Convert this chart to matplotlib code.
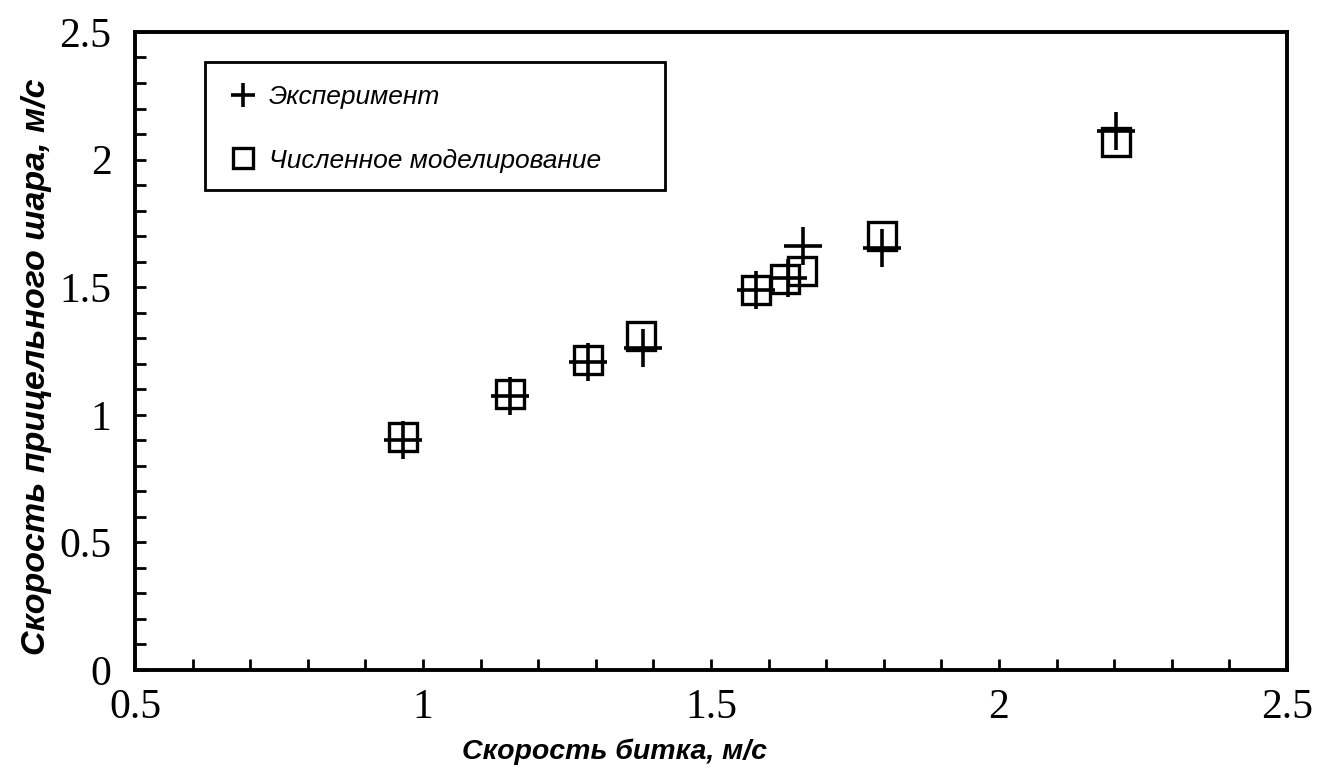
import matplotlib
matplotlib.use("Agg")
import matplotlib.pyplot as plt
from matplotlib.ticker import MultipleLocator
from matplotlib.patches import Rectangle

# Data
x_exp = [0.965, 1.151, 1.287, 1.382, 1.579, 1.634, 1.660, 1.797, 2.203]
y_exp = [0.90, 1.074, 1.207, 1.262, 1.489, 1.536, 1.661, 1.654, 2.112]
x_model = [0.965, 1.151, 1.287, 1.378, 1.579, 1.628, 1.658, 1.797, 2.203]
y_model = [0.913, 1.081, 1.215, 1.307, 1.489, 1.532, 1.565, 1.699, 2.069]

label_exp = "Эксперимент"
label_model = "Численное моделирование"
xlabel = "Скорость битка, м/с"
ylabel = "Скорость прицельного шара, м/с"
xticks = [0.5, 1, 1.5, 2, 2.5]
yticks = [0, 0.5, 1, 1.5, 2, 2.5]
xtick_labels = ["0.5", "1", "1.5", "2", "2.5"]
ytick_labels = ["0", "0.5", "1", "1.5", "2", "2.5"]

fig = plt.figure(figsize=(13.17, 7.78), dpi=100)
ax = fig.add_axes([0.1025, 0.1388, 0.8747, 0.8201])

ax.plot(x_exp, y_exp, linestyle="none", marker="+", markersize=27,
        markeredgewidth=2.6, color="black", label=label_exp)
ax.plot(x_model, y_model, linestyle="none", marker="s", markersize=20,
        markeredgewidth=2.4, markerfacecolor="none", markeredgecolor="black",
        label=label_model)

ax.set_xlim(0.5, 2.5)
ax.set_ylim(0, 2.5)
ax.set_xticks(xticks)
ax.set_xticklabels(xtick_labels)
ax.set_yticks(yticks)
ax.set_yticklabels(ytick_labels)
ax.xaxis.set_minor_locator(MultipleLocator(0.1))
ax.yaxis.set_minor_locator(MultipleLocator(0.1))
ax.tick_params(which="both", direction="in", length=8, width=2,
               top=False, right=False, color="black")
ax.tick_params(axis="x", which="major", labelsize=30, pad=13)
ax.tick_params(axis="y", which="major", labelsize=30, pad=17)
for lbl in ax.get_xticklabels() + ax.get_yticklabels():
    lbl.set_family("Liberation Serif")

for s in ax.spines.values():
    s.set_linewidth(2.8)

ax.set_xlabel(xlabel, family="Liberation Sans", fontsize=20.5,
              fontweight="bold", style="italic")
ax.xaxis.set_label_coords(0.416, -0.108)
ax.set_ylabel(ylabel, family="Liberation Sans", fontsize=24.5,
              fontweight="bold", style="italic")
ax.yaxis.set_label_coords(-0.072, 0.475)

# legend frame drawn as rectangle in axes coordinates
frame = Rectangle((0.0608, 0.752), 0.3992, 0.201, transform=ax.transAxes,
                  facecolor="white", edgecolor="black", linewidth=2, zorder=3)
ax.add_patch(frame)

leg = ax.legend(loc="upper left", bbox_to_anchor=(0.082, 0.917),
                prop={"family": "Liberation Sans", "style": "italic", "size": 19},
                frameon=False, borderpad=0, labelspacing=1.5,
                handletextpad=0.5, handlelength=1.0, borderaxespad=0)
leg.set_zorder(4)
hs = leg.legend_handles
hs[0].set_markersize(17)
hs[0].set_markeredgewidth(2.6)
hs[1].set_markersize(15)
hs[1].set_markeredgewidth(2.4)

fig.savefig("out.png", dpi=100)
